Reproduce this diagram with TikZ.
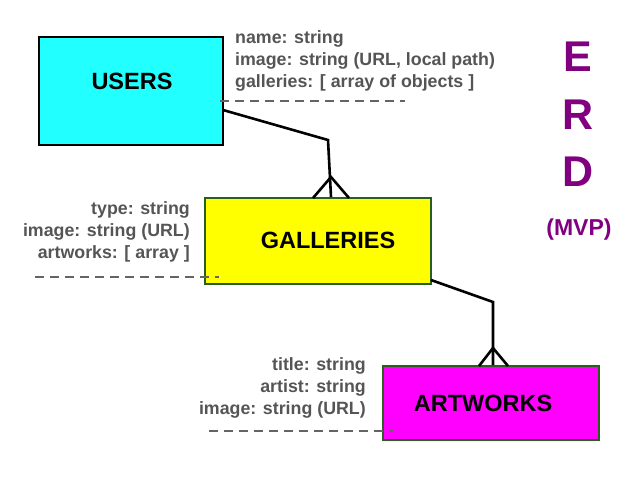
\documentclass[tikz,border=0pt]{standalone}
\usepackage{fontspec}
\setmainfont{Liberation Sans}
\definecolor{cyanbox}{RGB}{34,255,255}
\definecolor{yelbox}{RGB}{255,255,0}
\definecolor{magbox}{RGB}{255,0,255}
\definecolor{edgegreen}{RGB}{40,95,30}
\definecolor{attrgray}{RGB}{85,85,85}
\definecolor{dashgray}{RGB}{100,100,100}
\definecolor{erdpurple}{RGB}{128,0,128}
\begin{document}
\begin{tikzpicture}[x=1pt,y=-1pt,
  entity/.style={draw,line width=2pt,inner sep=0pt},
  etext/.style={font=\fontsize{23.5}{26}\selectfont\bfseries,inner sep=0pt},
  attr/.style={text=attrgray,font=\fontsize{17.8}{22}\selectfont\bfseries,inner sep=0pt},
  rel/.style={line width=2.6pt,line join=miter},
  sep/.style={dashgray,line width=1.3pt,dash pattern=on 8.5pt off 6.5pt},
  title/.style={text=erdpurple,font=\fontsize{43}{48}\selectfont\bfseries,inner sep=0pt}]
\useasboundingbox (0,0) rectangle (640,480);
% entities
\node[entity,draw=black,fill=cyanbox,minimum width=184pt,minimum height=108pt] (users) at (131,91) {};
\node[entity,draw=edgegreen,fill=yelbox,minimum width=226pt,minimum height=86pt] (gal) at (318,241) {};
\node[entity,draw=edgegreen,fill=magbox,minimum width=216pt,minimum height=74pt] (art) at (491,403) {};
\node[etext] (usersT) at (132,81) {USERS};
\node[etext] (galT) at (328,240) {GALLERIES};
\node[etext] (artT) at (483,403) {ARTWORKS};
% attributes
\node[attr,align=left,anchor=north west] (ua) at (235,30) {name: string\\image: string (URL, local path)\\galleries: [ array of objects ]};
\node[attr,align=right,anchor=north east] (ga) at (190,201.5) {type: string\\image: string (URL)\\artworks: [ array ]};
\node[attr,align=right,anchor=north east] (aa) at (366,357.5) {title: string\\artist: string\\image: string (URL)};
% dashed separators
\coordinate (u1) at (220,101); \coordinate (u2) at (405,101);
\coordinate (g1) at (35,277); \coordinate (g2) at (219,277);
\coordinate (a1) at (209,431); \coordinate (a2) at (393,431);
\draw[sep] (u1) -- (u2);
\draw[sep] (g1) -- (g2);
\draw[sep] (a1) -- (a2);
% relationships
\coordinate (r1) at (223,110);
\coordinate (k1) at (328,140);
\coordinate (c1) at (331,177);
\draw[rel] (r1) -- (k1) -- (gal.north -| c1);
\draw[rel] (313,198) -- (c1) -- (349,198);
\coordinate (r2) at (431,280);
\coordinate (k2) at (493,302);
\coordinate (c2) at (493,348);
\draw[rel] (r2) -- (k2) -- (art.north -| c2);
\draw[rel] (479,366) -- (c2) -- (508,366);
% title
\node[title] (e) at (578,57) {E};
\node[title] (r) at (578,115) {R};
\node[title] (d) at (578,172) {D};
\node[title,font=\fontsize{23}{25}\selectfont\bfseries] (mvp) at (579,230) {(MVP)};
\end{tikzpicture}
\end{document}
